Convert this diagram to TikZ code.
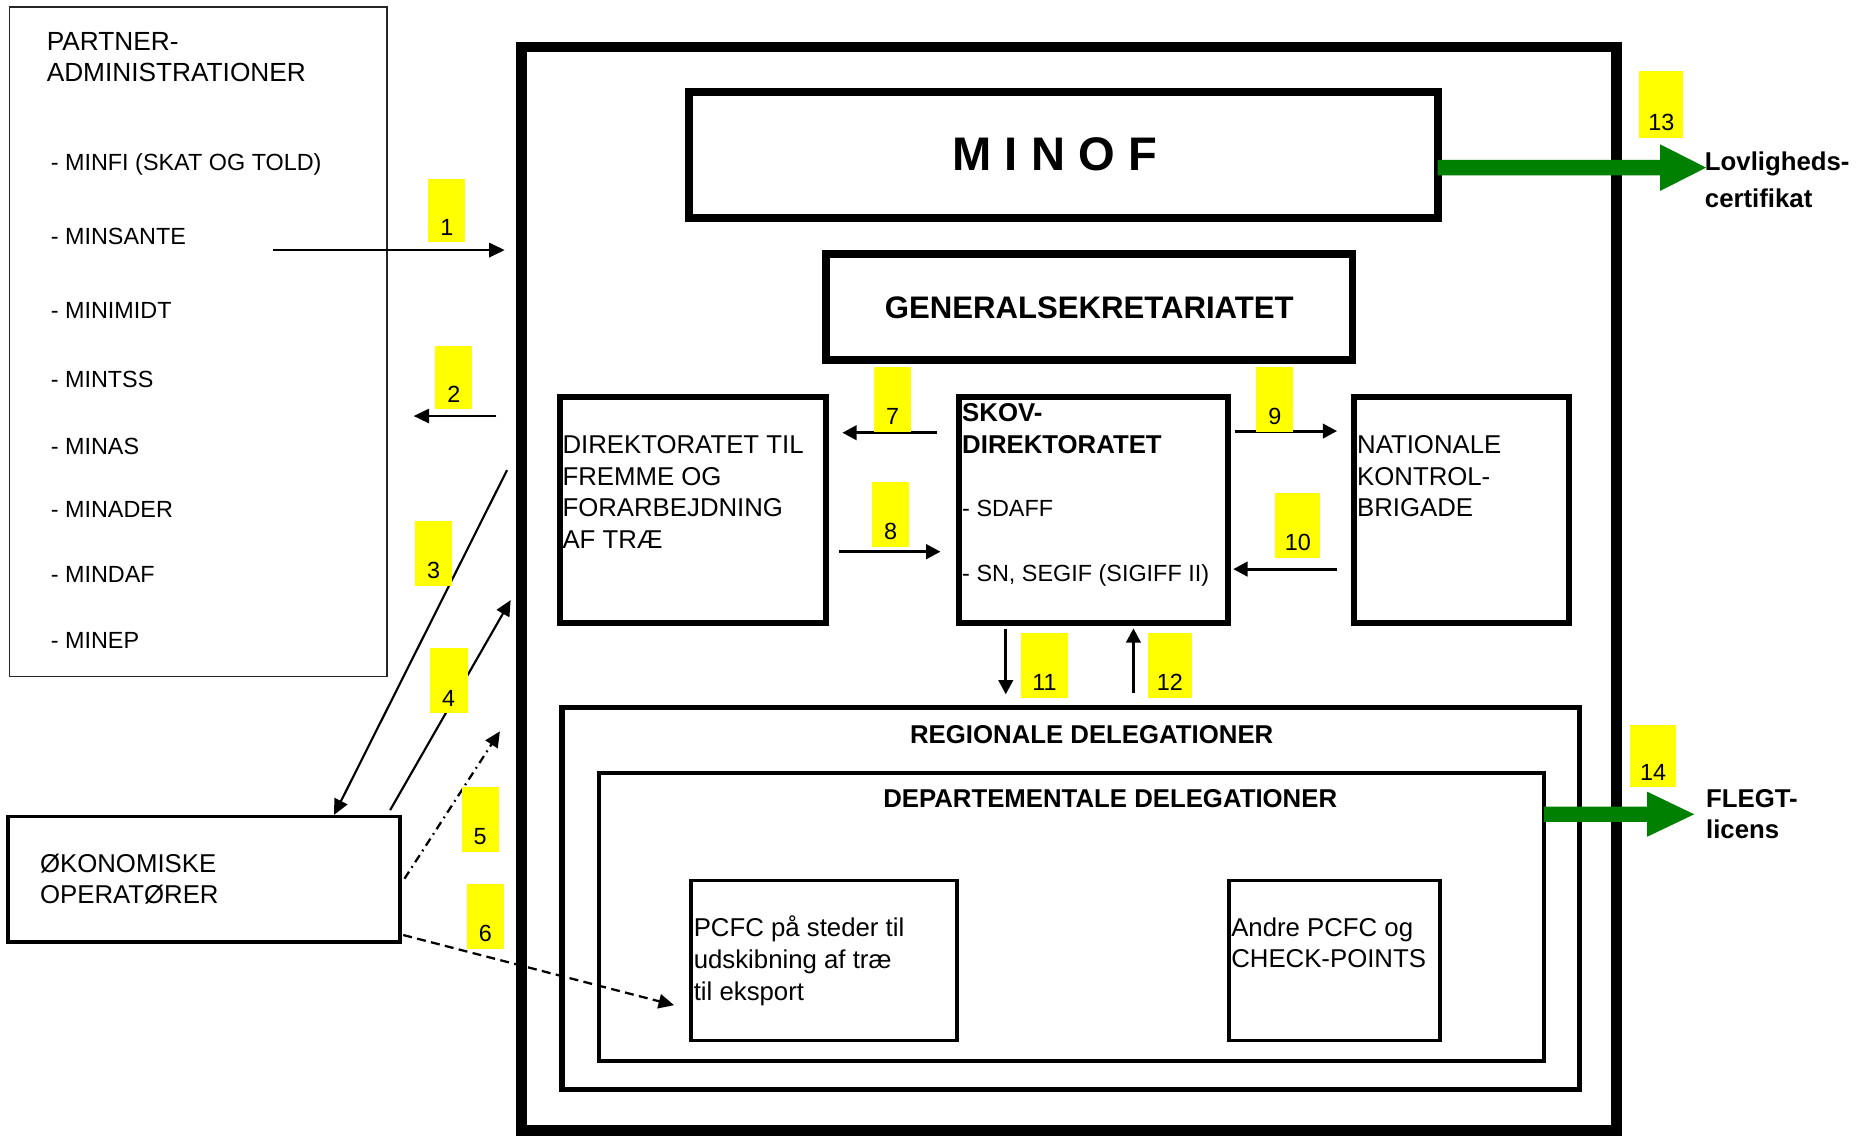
\documentclass[tikz,border=0pt]{standalone}
\usepackage{fontspec}
\setmainfont{Liberation Sans}
\usetikzlibrary{arrows.meta,calc}
\definecolor{flegt}{RGB}{0,128,0}
\definecolor{hl}{RGB}{255,255,0}
\newcommand\fsA{\fontsize{19.6}{23}\selectfont}
\newcommand\fsB{\fontsize{21.6}{26}\selectfont}
\newcommand\fsH{\fontsize{22}{26}\selectfont}
\newcommand\fsBb{\fontsize{21.6}{26}\selectfont\bfseries}
\newcommand\numbox[6]{%
  \fill[hl] (#2,#3) rectangle (#4,#5);
  \node[txt, anchor=base, font=\fsA] (#1) at ({(#2+#4)/2},{#5-6}) {#6};}
\begin{document}
\begin{tikzpicture}[x=1pt,y=-1pt,
  box/.style={draw, rectangle, inner sep=0pt, outer sep=0pt},
  txt/.style={inner sep=0pt, outer sep=0pt, anchor=base west},
  thinarr/.style={line width=1.8pt, -{Triangle[length=13pt,width=12pt]}},
  midarr/.style={line width=2.6pt, -{Triangle[length=12pt,width=12pt]}},
  dashdotarr/.style={line width=1.9pt, dash pattern=on 7pt off 4pt on 1.5pt off 4pt, -{Triangle[length=13pt,width=12pt]}},
  dasharr/.style={line width=1.9pt, dash pattern=on 7.5pt off 4.5pt, -{Triangle[length=13pt,width=12pt]}}]
\useasboundingbox (0,0) rectangle (1564,952);

% ---------- boxes ----------
\node[box, line width=9pt, minimum width=918pt, minimum height=908pt] (frame) at (896,493.5) {};
\node[box, line width=6.5pt, minimum width=627.5pt, minimum height=105.4pt] (minof) at (891.25,129.9) {};
\node[box, line width=6.5pt, minimum width=441pt, minimum height=89pt] (gen) at (913,257.5) {};
\node[box, line width=5pt, minimum width=223pt, minimum height=189.4pt] (dir) at (581,427.3) {};
\node[box, line width=5pt, minimum width=225pt, minimum height=189.4pt] (skov) at (916.5,427.3) {};
\node[box, line width=5pt, minimum width=180pt, minimum height=189.4pt] (nat) at (1225,427.3) {};
\node[box, line width=4.5pt, minimum width=853pt, minimum height=320pt] (reg) at (897.5,753) {};
\node[box, line width=3.5pt, minimum width=792pt, minimum height=241pt] (dep) at (898,768.5) {};
\node[box, line width=3pt, minimum width=223pt, minimum height=134pt] (pcfc) at (690.5,805) {};
\node[box, line width=3pt, minimum width=177pt, minimum height=134pt] (andre) at (1118.5,805) {};
\node[box, line width=1.6pt, draw=black!85, minimum width=316pt, minimum height=561.4pt] (partner) at (166,286.3) {};
\node[box, line width=2.8pt, minimum width=328.6pt, minimum height=105.2pt] (oeko) at (171.1,737) {};

% ---------- texts ----------
\node[txt, anchor=base, font=\fontsize{39.5}{44}\selectfont\bfseries] (tminof) at (884,142.5) {M I N O F};
\node[txt, anchor=base, font=\fontsize{26.1}{30}\selectfont\bfseries] (tgen) at (913,266.8) {GENERALSEKRETARIATET};

\node[txt, font=\fsH] (pa1) at (39.2,42.3) {PARTNER-};
\node[txt, font=\fsH] (pa2) at (39.2,68.5) {ADMINISTRATIONER};
\node[txt, font=\fsA] (m1) at (42.6,143.3) {- MINFI (SKAT OG TOLD)};
\node[txt, font=\fsA] (m2) at (42.6,205) {- MINSANTE};
\node[txt, font=\fsA] (m3) at (42.6,266.8) {- MINIMIDT};
\node[txt, font=\fsA] (m4) at (42.6,324.4) {- MINTSS};
\node[txt, font=\fsA] (m5) at (42.6,380.6) {- MINAS};
\node[txt, font=\fsA] (m6) at (42.6,434) {- MINADER};
\node[txt, font=\fsA] (m7) at (42.6,488) {- MINDAF};
\node[txt, font=\fsA] (m8) at (42.6,543.3) {- MINEP};

\node[txt, font=\fsB] (ok1) at (33.6,731.4) {ØKONOMISKE};
\node[txt, font=\fsB] (ok2) at (33.6,757.4) {OPERATØRER};

\node[txt, font=\fsB] (d1) at (471.5,379.9) {DIREKTORATET TIL};
\node[txt, font=\fsB] (d2) at (471.5,406.6) {FREMME OG};
\node[txt, font=\fsB] (d3) at (471.5,433) {FORARBEJDNING};
\node[txt, font=\fsB] (d4) at (471.5,460) {AF TRÆ};

\node[txt, font=\fsBb] (s1) at (806.5,353.5) {SKOV-};
\node[txt, font=\fsBb] (s2) at (806.5,379.9) {DIREKTORATET};
\node[txt, font=\fsA] (s3) at (806.5,433) {- SDAFF};
\node[txt, font=\fsA] (s4) at (806.5,487) {- SN, SEGIF (SIGIFF II)};

\node[txt, font=\fsB] (k1) at (1137.5,380) {NATIONALE};
\node[txt, font=\fsB] (k2) at (1137.5,406.6) {KONTROL-};
\node[txt, font=\fsB] (k3) at (1137.5,433) {BRIGADE};

\node[txt, anchor=base, font=\fsBb] (treg) at (915,623) {REGIONALE DELEGATIONER};
\node[txt, anchor=base, font=\fsBb] (tdep) at (930.5,677) {DEPARTEMENTALE DELEGATIONER};

\node[txt, font=\fsB] (p1) at (581.5,785) {PCFC på steder til};
\node[txt, font=\fsB] (p2) at (581.5,812) {udskibning af træ};
\node[txt, font=\fsB] (p3) at (581.5,838.8) {til eksport};

\node[txt, font=\fsB] (an1) at (1032,785) {Andre PCFC og};
\node[txt, font=\fsB] (an2) at (1032,811) {CHECK-POINTS};

\node[txt, font=\fsBb] (lv1) at (1429,143) {Lovligheds-};
\node[txt, font=\fsBb] (lv2) at (1429,174) {certifikat};
\node[txt, font=\fsBb] (fl1) at (1430,677) {FLEGT-};
\node[txt, font=\fsBb] (fl2) at (1430,703) {licens};

% ---------- arrows ----------
\coordinate (a1s) at (229,209.6);   \coordinate (a1e) at (423,209.6);
\coordinate (a2s) at (416,348.7);   \coordinate (a2e) at (346.7,348.7);
\coordinate (a3s) at (425,394);     \coordinate (a3e) at (280,683);
\coordinate (a4s) at (327,679);     \coordinate (a4e) at (428,503);
\coordinate (a5s) at (339,736.5);   \coordinate (a5e) at (419,613);
\coordinate (a6s) at (338,783.7);   \coordinate (a6e) at (565,842.5);
\coordinate (a7s) at (785.5,362.7); \coordinate (a7e) at (706,362.7);
\coordinate (a8s) at (703,462.4);   \coordinate (a8e) at (788.3,462.4);
\coordinate (a9s) at (1035,361.3);  \coordinate (a9e) at (1120.7,361.3);
\coordinate (a10s) at (1120.7,477); \coordinate (a10e) at (1033.6,477);
\coordinate (a11s) at (843,527);    \coordinate (a11e) at (843,582);
\coordinate (a12s) at (950,581);    \coordinate (a12e) at (950,526.6);

\draw[thinarr] (a1s) -- (a1e);
\draw[thinarr] (a2s) -- (a2e);
\draw[thinarr] (a3s) -- (a3e);
\draw[thinarr] (a4s) -- (a4e);
\draw[dashdotarr] (a5s) -- (a5e);
\draw[dasharr] (a6s) -- (a6e);
\draw[midarr] (a7s) -- (a7e);
\draw[midarr] (a8s) -- (a8e);
\draw[midarr] (a9s) -- (a9e);
\draw[midarr] (a10s) -- (a10e);
\draw[midarr] (a11s) -- (a11e);
\draw[midarr] (a12s) -- (a12e);

% ---------- yellow number labels ----------
\numbox{n1}{359}{150}{390}{203}{1}
\numbox{n2}{365}{290}{396}{343}{2}
\numbox{n3}{348}{437}{379}{491}{3}
\numbox{n4}{360}{543}{392}{598}{4}
\numbox{n5}{387}{660}{418}{714}{5}
\numbox{n6}{391}{741}{422.5}{795}{6}
\numbox{n7}{732.5}{307.6}{763.7}{362}{7}
\numbox{n8}{731}{404}{762}{458.6}{8}
\numbox{n9}{1053}{307.6}{1084}{362}{9}
\numbox{n10}{1069}{413}{1106.6}{467.5}{10}
\numbox{n11}{856}{530.8}{895}{584.8}{11}
\numbox{n12}{962}{530.8}{999}{584.8}{12}
\numbox{n13}{1374}{59.5}{1411}{115.7}{13}
\numbox{n14}{1366}{608}{1405}{660}{14}

% ---------- green output arrows ----------
\coordinate (g13) at (minof.east |- 0,140.5);
\fill[flegt] ($(g13)+(0,-6.4)$) -- (1391.5,134.1) -- (1391.5,121) -- (1430,140.5) -- (1391.5,160) -- (1391.5,146.9) -- ($(g13)+(0,6.4)$) -- cycle;
\coordinate (g14) at (dep.east |- 0,682.5);
\fill[flegt] ($(g14)+(0,-6.4)$) -- (1380.6,676.1) -- (1380.6,663.6) -- (1420,682.5) -- (1380.6,701.3) -- (1380.6,688.9) -- ($(g14)+(0,6.4)$) -- cycle;
\end{tikzpicture}
\end{document}
